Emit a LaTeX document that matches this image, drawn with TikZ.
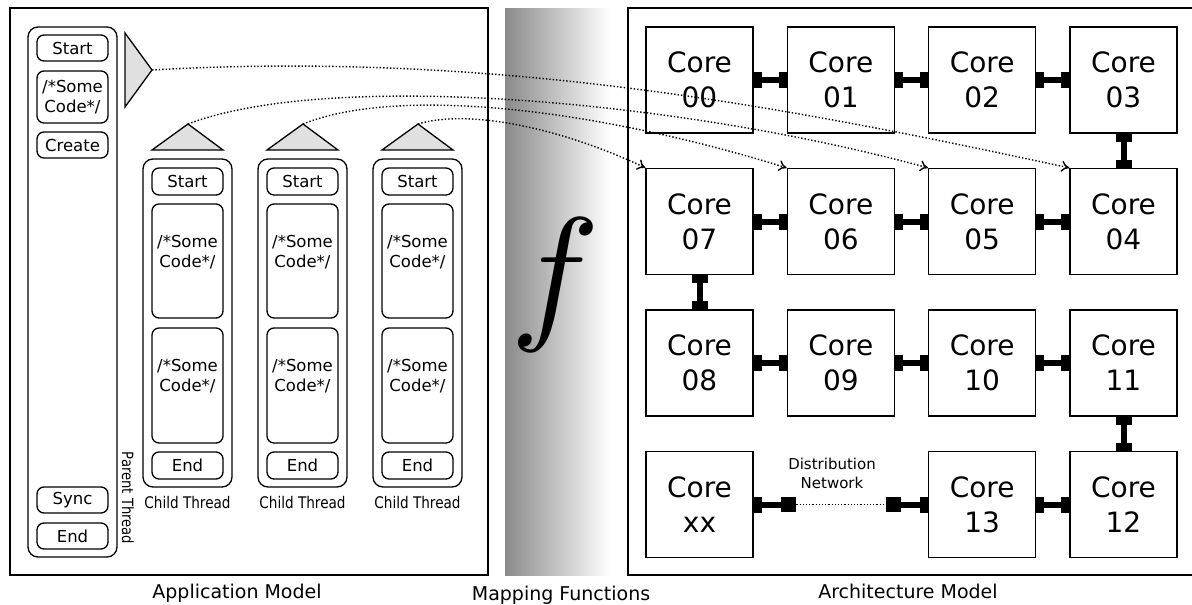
\documentclass[tikz,border=0pt]{standalone}
\usepackage{fontspec}
\setmainfont{DejaVu Sans}
\newfontfamily\condfont[FakeStretch=0.85]{DejaVu Sans}
\usepackage{graphicx}
\usetikzlibrary{calc,arrows.meta}
\newcommand\upcode{\raisebox{8pt}[\height][\depth]{\begin{tabular}{@{}c@{}}/*Some\\Code*/\end{tabular}}}
\begin{document}
\begin{tikzpicture}[x=1pt,y=-1pt,
  panel/.style={draw, line width=1.4pt},
  thread/.style={draw, rounded corners=10pt, line width=1.3pt, inner sep=0pt},
  codebox/.style={draw, rounded corners=7pt, line width=1.3pt, inner sep=0pt, align=center, font=\fontsize{16.5}{20}\selectfont},
  core/.style={draw, line width=1.3pt, minimum width=107pt, minimum height=106pt, inner sep=0pt, align=center, font=\fontsize{28}{35}\selectfont},
  tri/.style={draw, fill=black!12, line width=1.3pt, line join=miter},
  map/.style={dotted, line width=1.4pt, -{To[length=8pt,width=11pt]}},
  bar/.style={line width=6pt},
  netsq/.style={fill=black, minimum size=15pt, inner sep=0pt},
  biglabel/.style={font=\fontsize{19}{23}\selectfont, anchor=base},
  sz/.style 2 args={minimum width=#1pt, minimum height=#2pt},
  ]
\useasboundingbox (0,0) rectangle (1192,605);

% mapping band
\shade[left color=black!46, right color=white] (505,8) rectangle (610,575);
\node (fn) at (555,285) {\scalebox{15}{$f$}};

% panels
\draw[panel] (10,8) rectangle (488,575);
\draw[panel] (1200,8) -- (628,8) -- (628,575) -- (1200,575);

% parent thread
\node[thread, sz={89}{530}] (parent) at (72.5,292) {};
\node[codebox, sz={71}{26}] (pstart) at (72.5,48) {Start};
\node[codebox, sz={71}{52}] (pcode) at (72.5,97) {/*Some\\Code*/};
\node[codebox, sz={71}{26}] (pcreate) at (72.5,145) {Create};
\node[codebox, sz={71}{26}] (psync) at (72.5,500) {Sync};
\node[codebox, sz={71}{26}] (pend) at (72.5,536) {End};
\node[rotate=-90, font=\condfont\fontsize{15.5}{18}\selectfont] (plabel) at (128,498) {Parent Thread};
\coordinate (papex) at (152,70);
\draw[tri] (125,33) -- (papex) -- (125,107) -- cycle;

% child threads
\foreach \i/\x in {1/143, 2/258, 3/373} {
  \node[thread, sz={89}{328}] (ch\i) at ({\x+44.5},323) {};
  \node[codebox, sz={71}{27}] (ch\i start) at ({\x+44.5},181.5) {Start};
  \node[codebox, sz={71}{114}] (ch\i codea) at ({\x+44.5},261) {\upcode};
  \node[codebox, sz={71}{115}] (ch\i codeb) at ({\x+44.5},385.5) {\upcode};
  \node[codebox, sz={71}{27}] (ch\i end) at ({\x+44.5},465.5) {End};
  \node[anchor=base, font=\condfont\fontsize{16}{20}\selectfont] (ch\i label) at ({\x+44.5},508) {Child Thread};
  \coordinate (t\i) at ({\x+45},124);
  \draw[tri] ({\x+9},150) -- (t\i) -- ({\x+80},150) -- cycle;
}

% cores
\foreach \n/\c/\r in {00/0/0, 01/1/0, 02/2/0, 03/3/0, 07/0/1, 06/1/1, 05/2/1, 04/3/1, 08/0/2, 09/1/2, 10/2/2, 11/3/2, xx/0/3, 13/2/3, 12/3/3}
  \node[core] (c\n) at ({699.5+141.33*\c},{80+141.5*\r}) {Core\\\n};

% horizontal links
\foreach \a/\b in {00/01, 01/02, 02/03, 07/06, 06/05, 05/04, 08/09, 09/10, 10/11, 13/12} {
  \draw[bar] (c\a.east) -- (c\b.west);
  \fill (c\a.east) ++(0,-8) rectangle ++(8,16);
  \fill (c\b.west) ++(-8,-8) rectangle ++(8,16);
}
% vertical links
\foreach \a/\b in {03/04, 07/08, 11/12} {
  \draw[bar] (c\a.south) -- (c\b.north);
  \fill (c\a.south) ++(-8,0) rectangle ++(16,8);
  \fill (c\b.north) ++(-8,-8) rectangle ++(16,8);
}

% distribution network
\node[netsq] (dl) at ($(cxx.east)+(35,0)$) {};
\node[netsq] (dr) at ($(c13.west)+(-35,0)$) {};
\draw[bar] (cxx.east) -- (dl.center);
\draw[bar] (dr.center) -- (c13.west);
\fill (cxx.east) ++(0,-8) rectangle ++(8,16);
\fill (c13.west) ++(-8,-8) rectangle ++(8,16);
\draw[dotted, line width=1.2pt] (dl.east) -- (dr.west);
\node[font=\fontsize{15}{19}\selectfont, align=center] (dn) at (832,473) {Distribution\\Network};

% bottom labels
\node[biglabel] (am) at (237,598.5) {Application Model};
\node[biglabel] (mf) at (561,600) {Mapping Functions};
\node[biglabel] (arm) at (908,598.5) {Architecture Model};

% mapping arrows
\draw[map] (papex) .. controls +(350,-20) and +(-270,-58) .. (c04.north west);
\draw[map] (t1) .. controls +(142,-54) and +(-249,-68) .. (c05.north west);
\draw[map] (t2) .. controls +(98,-39) and +(-187,-58) .. (c06.north west);
\draw[map] (t3) .. controls +(53,-16) and +(-80,-38) .. (c07.north west);
\end{tikzpicture}
\end{document}
